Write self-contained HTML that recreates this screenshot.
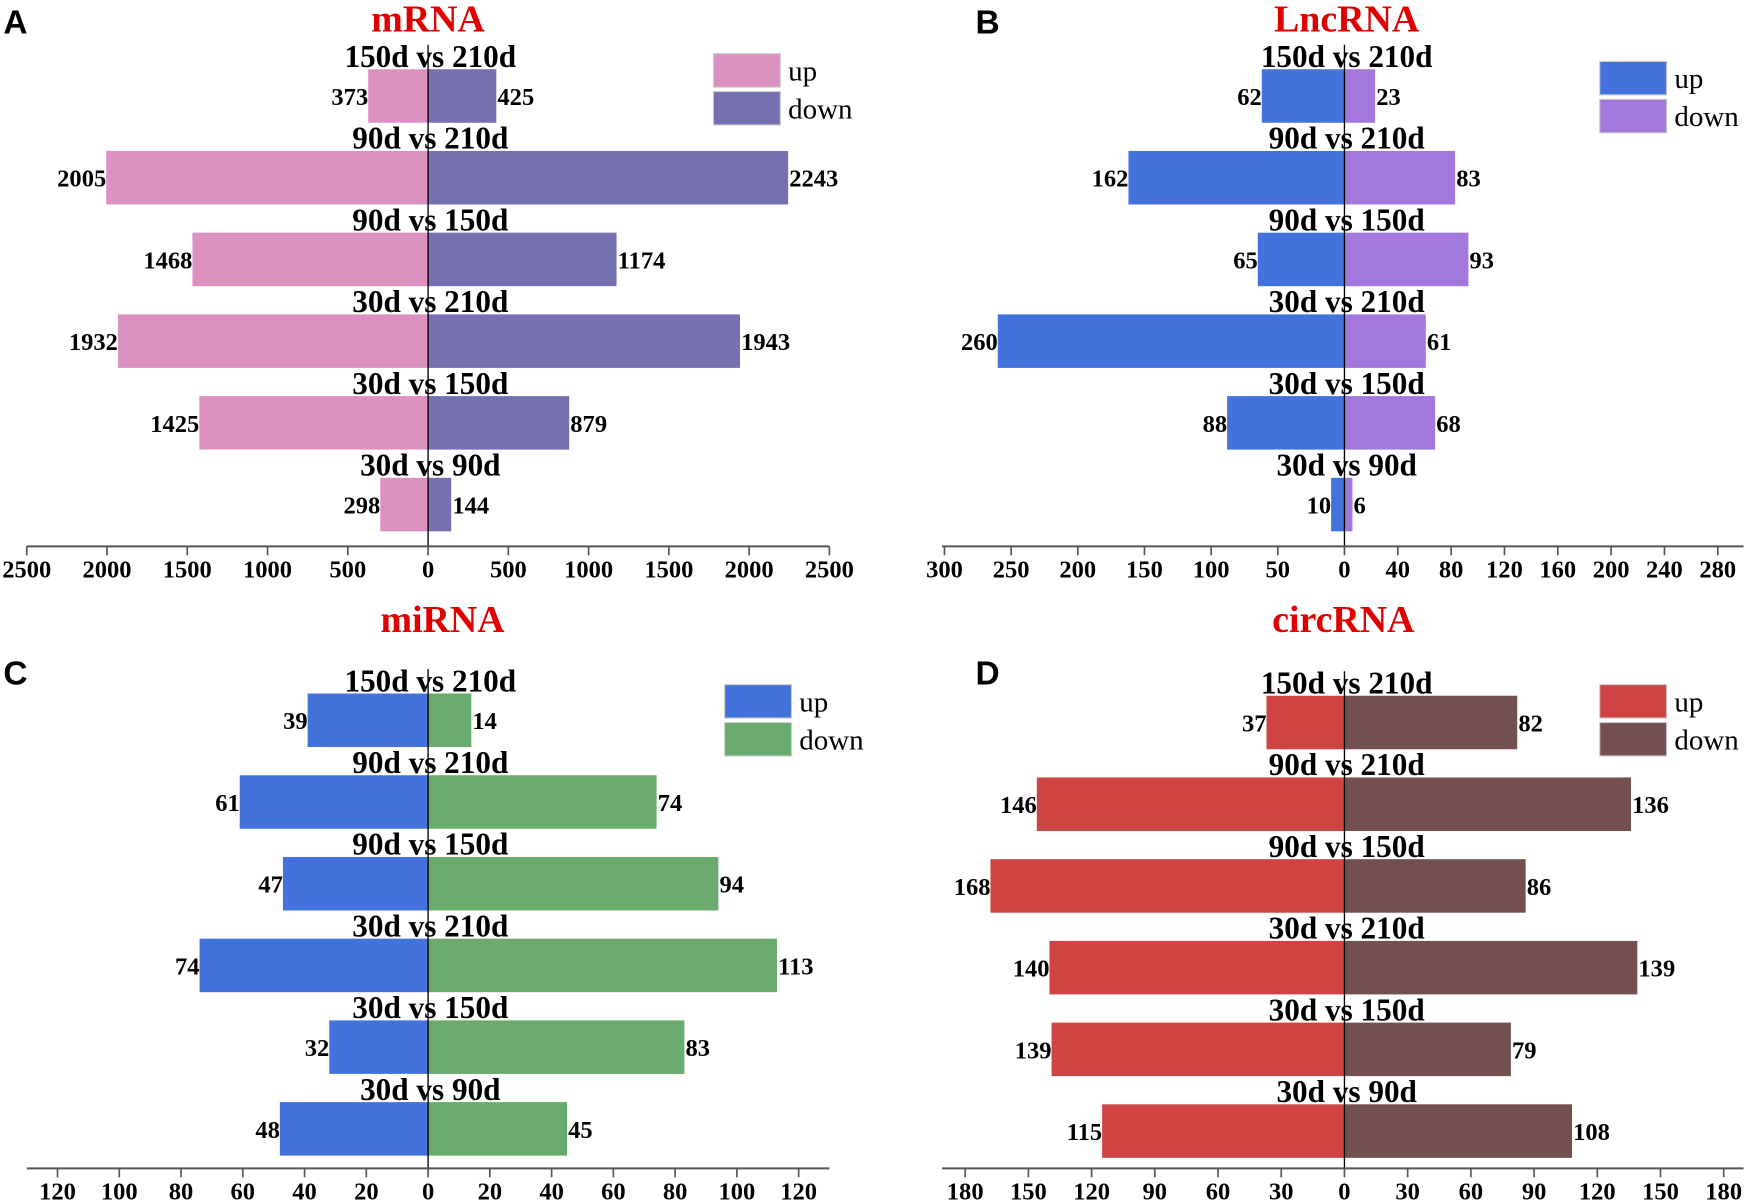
<!DOCTYPE html>
<html><head><meta charset="utf-8">
<style>
html,body{margin:0;padding:0;background:#fff;}
svg{display:block;}
text{font-family:"Liberation Serif",serif;}
</style></head>
<body>
<svg id="fig" width="1748" height="1202" viewBox="0 0 1568 1078" xmlns="http://www.w3.org/2000/svg"></svg>
<script>
const categories = ["150d vs 210d","90d vs 210d","90d vs 150d","30d vs 210d","30d vs 150d","30d vs 90d"];
const mrnaUp = [373,2005,1468,1932,1425,298];
const mrnaDown = [425,2243,1174,1943,879,144];
const lncUp = [62,162,65,260,88,10];
const lncDown = [23,83,93,61,68,6];
const mirUp = [39,61,47,74,32,48];
const mirDown = [14,74,94,113,83,45];
const circUp = [37,146,168,140,139,115];
const circDown = [82,136,86,139,79,108];
const mrnaLeftTicks = [2500,2000,1500,1000,500];
const mrnaRightTicks = [0,500,1000,1500,2000,2500];
const lncLeftTicks = [300,250,200,150,100,50];
const lncRightTicks = [0,40,80,120,160,200,240,280];
const mirLeftTicks = [120,100,80,60,40,20];
const mirRightTicks = [0,20,40,60,80,100,120];
const circLeftTicks = [180,150,120,90,60,30];
const circRightTicks = [0,30,60,90,120,150,180];

const NS = "http://www.w3.org/2000/svg";
const svg = document.getElementById('fig');
function mk(tag, attrs, parent, txt){
  const e = document.createElementNS(NS, tag);
  for (const k in attrs) e.setAttribute(k, attrs[k]);
  if (txt !== undefined) e.textContent = txt;
  (parent||svg).appendChild(e);
  return e;
}

const panels = [
  {key:'mrna', title:'mRNA', letter:'A', lx:3, ly:30, tx:384, ty:28, zero:384, scale:0.144, ax0:24, ax1:744, axY:490, top0:62,
   up:mrnaUp, down:mrnaDown, lt:mrnaLeftTicks, rt:mrnaRightTicks, cu:'#db92c0', cd:'#7570b0', legX:640, legY:48},
  {key:'lncrna', title:'LncRNA', letter:'B', lx:875, ly:30, tx:1208, ty:28, zero:1206, scale:1.196, ax0:845, ax1:1564, axY:490, top0:62,
   up:lncUp, down:lncDown, lt:lncLeftTicks, rt:lncRightTicks, cu:'#4472dc', cd:'#a378dc', legX:1435, legY:55},
  {key:'mirna', title:'miRNA', letter:'C', lx:3, ly:614, tx:397, ty:567, zero:384, scale:2.77, ax0:24, ax1:744, axY:1048, top0:622,
   up:mirUp, down:mirDown, lt:mirLeftTicks, rt:mirRightTicks, cu:'#4472dc', cd:'#68ab6c', legX:650, legY:614},
  {key:'circrna', title:'circRNA', letter:'D', lx:875, ly:614, tx:1205, ty:567, zero:1206, scale:1.89, ax0:845, ax1:1564, axY:1048, top0:624,
   up:circUp, down:circDown, lt:circLeftTicks, rt:circRightTicks, cu:'#d04343', cd:'#72504f', legX:1435, legY:614}
];

const SP = 73.3, BH = 48;
panels.forEach(p => {
  const g = mk('g', {});
  
  
  const xL = v => p.zero - v * p.scale;
  const xR = v => p.zero + v * p.scale;

  const lt = mk('text', {x:p.lx, y:p.ly, 'font-weight':'bold', 'font-size':30, style:'font-family:"Liberation Sans",sans-serif'}, g, p.letter);
  
  
  const tt = mk('text', {x:p.tx, y:p.ty, 'text-anchor':'middle', 'font-weight':'bold', 'font-size':34, fill:'#e00000'}, g, p.title);
  
  

  categories.forEach((c, i) => {
    const top = p.top0 + i * SP;
    const r1 = mk('rect', {x:xL(p.up[i]), y:top, width:p.zero - xL(p.up[i]), height:BH, fill:p.cu}, g);
    
    
    const r2 = mk('rect', {x:p.zero, y:top, width:xR(p.down[i]) - p.zero, height:BH, fill:p.cd}, g);
    
    
    const cl = mk('text', {x:p.zero + 2, y:top - 2, 'text-anchor':'middle', 'font-weight':'bold', 'font-size':28}, g, c);
    
    
    const v1 = mk('text', {x:xL(p.up[i]), y:top + BH/2 + 8, 'text-anchor':'end', 'font-weight':'bold', 'font-size':22}, g, String(p.up[i]));
    
    
    const v2 = mk('text', {x:xR(p.down[i]) + 1, y:top + BH/2 + 8, 'font-weight':'bold', 'font-size':22}, g, String(p.down[i]));
    
    
  });

  const zl = mk('line', {x1:p.zero, x2:p.zero, y1:p.top0 - 22, y2:p.axY, stroke:'#000', 'stroke-width':1.2}, g);
  
  
  const ax = mk('line', {x1:p.ax0, x2:p.ax1, y1:p.axY, y2:p.axY, stroke:'#555', 'stroke-width':1.8}, g);
  
  
  const tick = (x, lab) => {
    const tl = mk('line', {x1:x, x2:x, y1:p.axY, y2:p.axY + 8, stroke:'#555', 'stroke-width':1.5}, g);
    
    
    const tx = mk('text', {x:x, y:p.axY + 28, 'text-anchor':'middle', 'font-weight':'bold', 'font-size':22}, g, String(lab));
    
    
  };
  p.lt.forEach(v => tick(xL(v), v));
  p.rt.forEach(v => tick(xR(v), v));

  [['up', p.cu, 0], ['down', p.cd, 34]].forEach(([lab, col, dy]) => {
    const lr = mk('rect', {x:p.legX, y:p.legY + dy, width:60, height:30, fill:col, stroke:'#ccc', 'stroke-width':1}, g);
    
    
    const lx = mk('text', {x:p.legX + 67, y:p.legY + dy + 24, 'font-size':26}, g, lab);
    
    
  });
});
</script>
</body></html>
